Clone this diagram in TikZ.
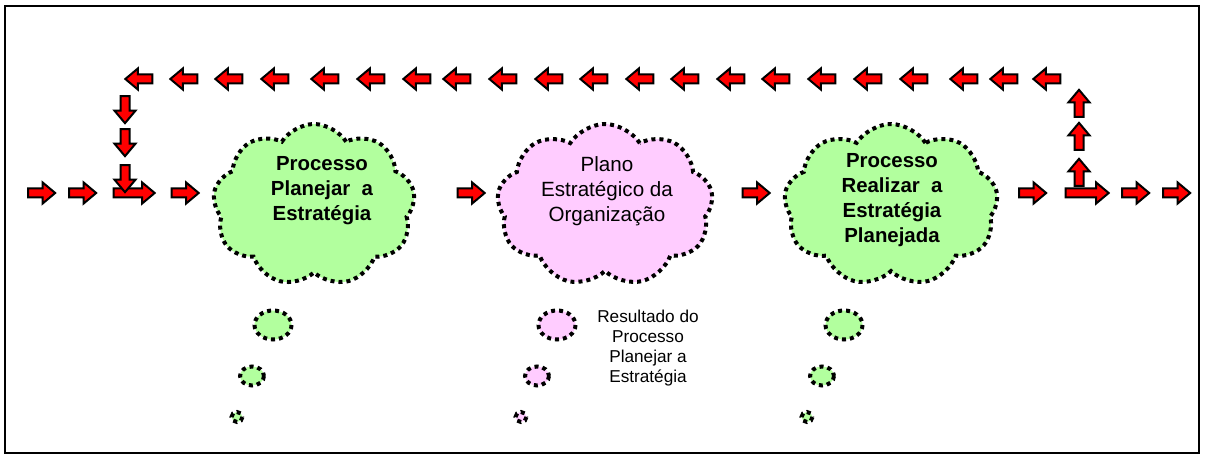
\documentclass[tikz,border=0pt]{standalone}
\usepackage{fontspec}
\setmainfont{Liberation Sans}
\usetikzlibrary{shapes.symbols,shapes.arrows}
\definecolor{cloudgreen}{RGB}{178,255,158}
\definecolor{cloudpink}{RGB}{255,204,255}
\tikzset{
    blockarrow/.style={single arrow, draw=black, fill=red, line width=1pt, inner xsep=0pt, inner ysep=1.75pt, minimum width=0pt, single arrow head extend=3pt, single arrow tip angle=80, minimum height=#1, outer sep=0pt},
    blockarrow/.default=13.5pt,
    dotline/.style={draw=black, line width=2pt, dash pattern=on 2pt off 2pt},
    thought/.style={cloud, cloud puffs=9, cloud puff arc=115, dotline, inner sep=0pt, minimum width=101pt, minimum height=81pt},
    cloudtext/.style={align=center, font=\fontsize{10.3}{12.5}\selectfont},
}
\begin{document}
\begin{tikzpicture}[x=0.5pt,y=-0.5pt]
    \useasboundingbox (0,0) rectangle (1205,459);
    \draw[line width=1pt] (5,6) rectangle (1199,453);
    
    % clouds
    \node[thought, fill=cloudgreen] (planejar) at (314,205) {};
    \node[thought, fill=cloudpink, minimum width=108pt] (plano) at (605,205) {};
    \node[thought, fill=cloudgreen, minimum width=107pt] (realizar) at (891,205) {};
    
    \node[cloudtext, font=\bfseries\fontsize{10.2}{12.5}\selectfont] (planejartxt) at (322,191) {Processo\\Planejar\ \ a\\Estratégia};
    \node[cloudtext] (planotxt) at (607,191) {Plano\\Estratégico da\\Organização};
    \node[cloudtext, font=\bfseries\fontsize{10.2}{12.5}\selectfont] (realizartxt) at (892,200) {Processo\\Realizar\ \ a\\Estratégia\\Planejada};
    
    % bubbles
    \draw[dotline, fill=cloudgreen] (273,325) ellipse (18.5 and 14.5);
    \draw[dotline, fill=cloudgreen] (252,376) ellipse (12 and 9.5);
    \draw[dotline, fill=cloudgreen] (237,417) ellipse (5.5 and 5);
    
    \draw[dotline, fill=cloudpink] (557,325) ellipse (18.5 and 14.5);
    \draw[dotline, fill=cloudpink] (537,376) ellipse (12 and 9.5);
    \draw[dotline, fill=cloudpink] (521,417) ellipse (5.5 and 5);
    
    \draw[dotline, fill=cloudgreen] (844,325) ellipse (18.5 and 14.5);
    \draw[dotline, fill=cloudgreen] (822,376) ellipse (12 and 9.5);
    \draw[dotline, fill=cloudgreen] (807,417) ellipse (5.5 and 5);
    
    \node[align=center, font=\fontsize{8.6}{10}\selectfont] (resultado) at (648,348) {Resultado do\\Processo\\Planejar a\\Estratégia};
    
    % arrows back along the top
    \foreach \tx [count=\i] in {127,172,217,263,313,359,405,445,491,537,582,628,673,719,764,810,856,902,952,992,1035}
        \node[blockarrow, shape border rotate=180] (back\i) at (\tx+14.5,79) {};
    
    % main row
    \foreach \cx/\l [count=\i] in {39/29, 80/29, 131.5/43, 182.5/29, 468.5/29, 753.5/29, 1030/29, 1084.5/45, 1133/29, 1174/29}{
        \pgfmathsetmacro\len{\l/2-1}
        \node[blockarrow=\len pt] (main\i) at (\cx,193) {};
    }
    
    % down and up
    \foreach \cy [count=\i] in {107,140,176}
        \node[blockarrow, rotate=-90] (down\i) at (125,\cy) {};
    \foreach \cy [count=\i] in {175,139,106}
        \node[blockarrow, rotate=90] (up\i) at (1079,\cy) {};
\end{tikzpicture}
\end{document}
